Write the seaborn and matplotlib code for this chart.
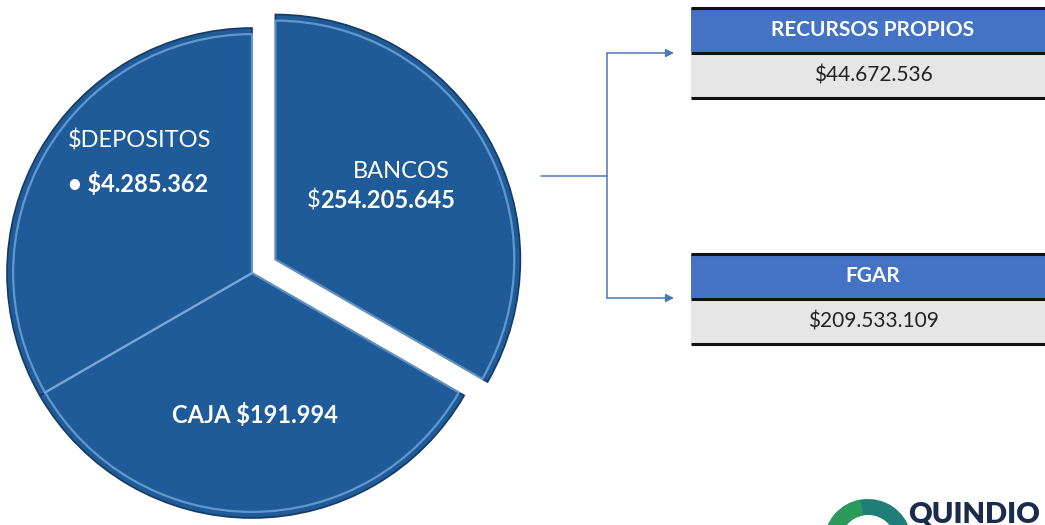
import matplotlib
matplotlib.use('Agg')
import matplotlib.pyplot as plt
from matplotlib.patches import Rectangle, Wedge
import seaborn as sns

# ── Datos ──────────────────────────────────────────────
segmentos = ['BANCOS', '$DEPOSITOS', 'CAJA']
valores_seg = ['$254.205.645', '$4.285.362', '$191.994']
tamanos = [1, 1, 1]          # la figura usa tres tercios iguales
separacion = [27, 0, 0]      # desplazamiento en px del sector BANCOS

fuentes = ['RECURSOS PROPIOS', 'FGAR']
valores_fuentes = ['$44.672.536', '$209.533.109']

# ── Estilo ─────────────────────────────────────────────
sns.set_theme(style='white')
plt.rcParams['font.family'] = ['Lato', 'DejaVu Sans']
plt.rcParams['text.parse_math'] = False

AZUL_PIE = '#1f5b98'
AZUL_TABLA = '#4472c4'
GRIS = '#e7e6e6'

fig = plt.figure(figsize=(10.45, 5.25), dpi=100)
ax = fig.add_axes([0, 0, 1, 1])

# ── Torta ──────────────────────────────────────────────
centro = (252, 252)
radio = 245
ax.pie(tamanos, explode=separacion, startangle=-30, center=centro, radius=radio,
       colors=[AZUL_PIE] * 3, frame=True,
       wedgeprops=dict(edgecolor='#163a60', linewidth=1.2))
# brillo interior (bisel)
ax.pie(tamanos, explode=separacion, startangle=-30,
       center=centro, radius=radio * 0.975, frame=True,
       wedgeprops=dict(fill=False, edgecolor='#7fb2e5', linewidth=1.6, alpha=0.7))
ax.set_xlim(0, 1045)
ax.set_ylim(0, 525)
ax.set_aspect('equal')
ax.axis('off')

# etiquetas de la torta
ax.text(68, 385, segmentos[1], color='white', fontsize=17, ha='left', va='center')
ax.text(68, 341, '\u2022 ' + valores_seg[1], color='white', fontsize=17,
        fontweight='bold', ha='left', va='center')
ax.text(401, 353, segmentos[0], color='white', fontsize=17, ha='center', va='center')
ax.text(320, 325, '$', color='white', fontsize=17, ha='right', va='center')
ax.text(320, 325, valores_seg[0][1:], color='white', fontsize=17,
        fontweight='bold', ha='left', va='center')
ax.text(255, 110, segmentos[2] + ' ' + valores_seg[2], color='white', fontsize=17,
        fontweight='bold', ha='center', va='center')

# ── Conectores ─────────────────────────────────────────
col_linea = '#4a78b8'
ax.plot([541, 607], [349, 349], color=col_linea, lw=1.1)
ax.plot([607, 607], [227, 472], color=col_linea, lw=1.1)
for y in [472, 227]:
    ax.annotate('', xy=(674, y), xytext=(607, y),
                arrowprops=dict(arrowstyle='-|>', color=col_linea, lw=1.1,
                                mutation_scale=12, shrinkA=0, shrinkB=0))

# ── Tablas ─────────────────────────────────────────────
x0, x1 = 691, 1045
tops = [517, 271]
for nombre, valor, top in zip(fuentes, valores_fuentes, tops):
    ax.add_patch(Rectangle((x0, top - 44), x1 - x0, 44, color=AZUL_TABLA, lw=0))
    ax.add_patch(Rectangle((x0, top - 90), x1 - x0, 45, color=GRIS, lw=0))
    for y in [top, top - 44.5, top - 90]:
        ax.plot([x0, x1], [y, y], color='#111111', lw=2.2, solid_capstyle='butt')
    ax.text(873, top - 22, nombre, color='white', fontsize=15, fontweight='bold',
            ha='center', va='center')
    ax.text(873, top - 67, valor, color='#222222', fontsize=15,
            ha='center', va='center')

# ── Logo ───────────────────────────────────────────────
ax.add_patch(Wedge((868, -18), 44, 15, 180, width=16, color='#1f7f78', lw=0))
ax.add_patch(Wedge((868, -18), 44, 100, 180, width=16, color='#2c9a5a', lw=0))
ax.text(908, 24, 'QUINDIO', color='#1b2b4b', fontsize=21, fontweight='heavy',
        ha='left', va='top')

plt.savefig('out.png', dpi=100)
